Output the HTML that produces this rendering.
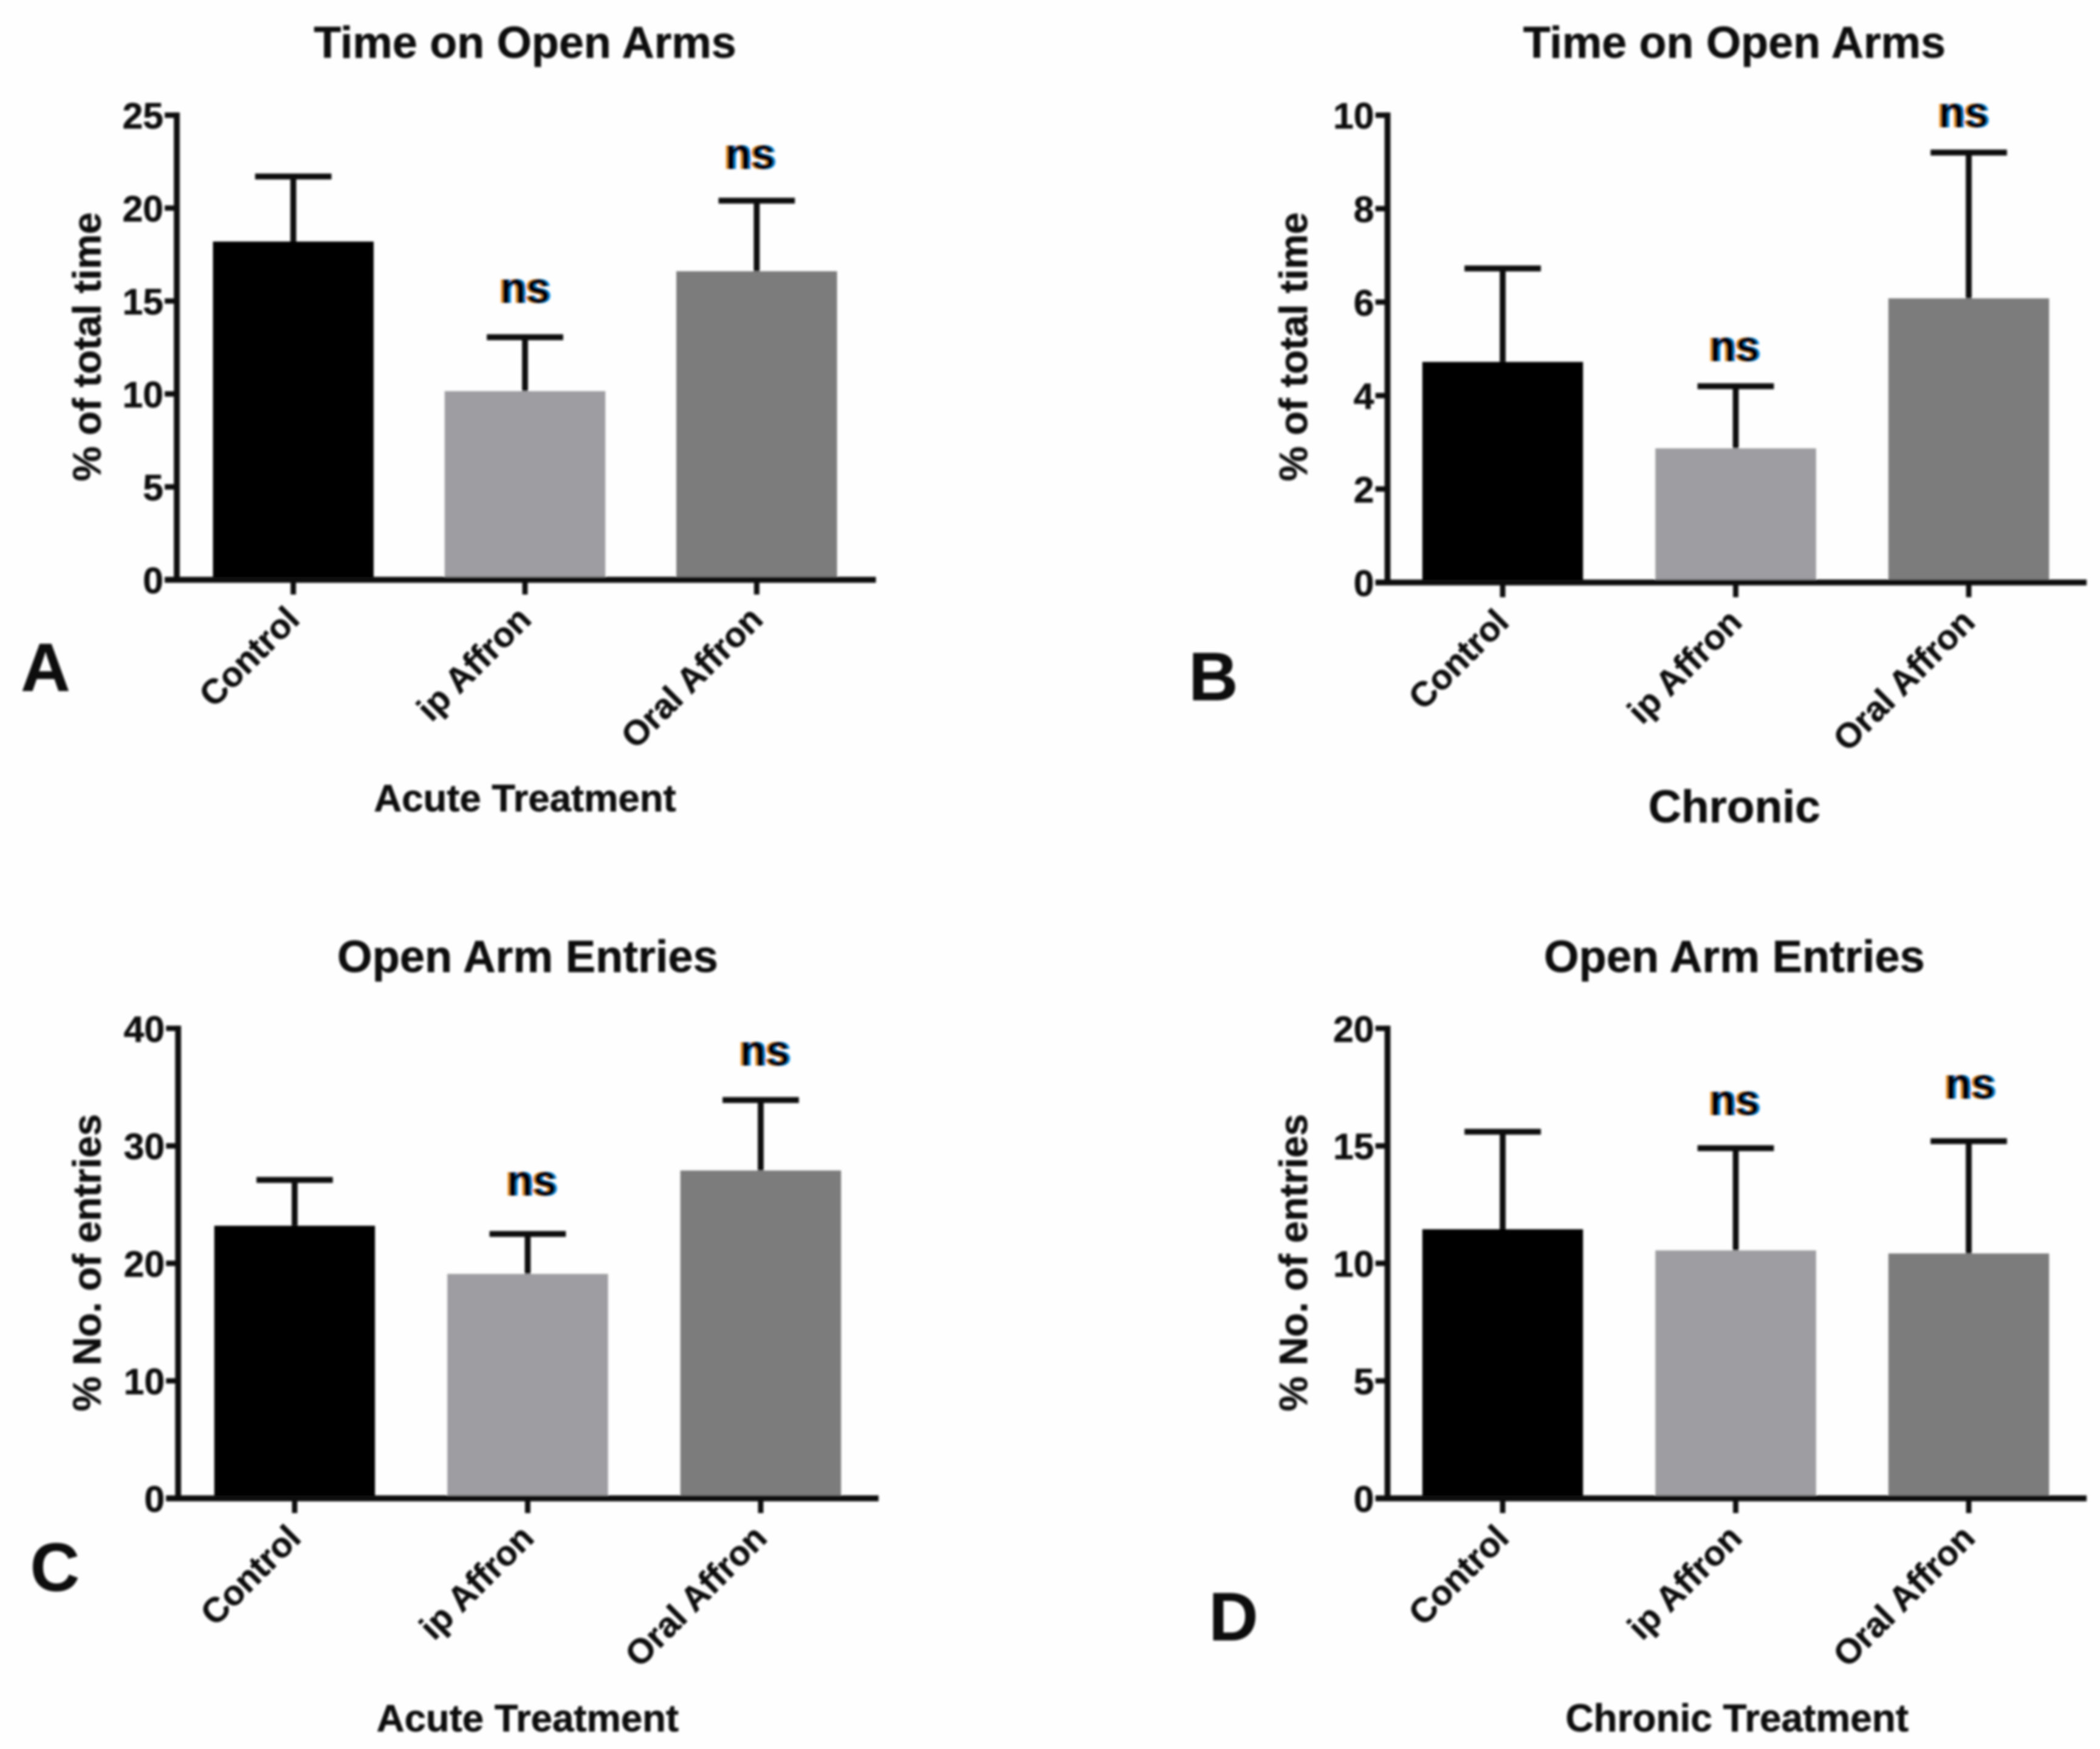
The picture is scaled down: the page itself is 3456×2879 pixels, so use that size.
<!DOCTYPE html>
<html lang="en">
<head>
<meta charset="utf-8">
<title>Time on Open Arms and Open Arm Entries</title>
<style>
html,body{margin:0;padding:0;background:#fefefe;}
svg{display:block;position:absolute;left:0;top:0;}
text{font-family:"Liberation Sans",Arial,sans-serif;font-weight:bold;fill:#0c0c0c;stroke:#0c0c0c;stroke-width:0.25;}
</style>
</head>
<body>
<svg id="figure" xmlns="http://www.w3.org/2000/svg" width="3456" height="2879" viewBox="0 0 1568 1306.2">
<defs>
<filter id="soft" x="-5%" y="-5%" width="110%" height="110%"><feGaussianBlur stdDeviation="0.8"/></filter>
<filter id="fringe" x="-30%" y="-30%" width="160%" height="160%">
<feFlood flood-color="#f59a2a" result="o"/>
<feComposite in="o" in2="SourceAlpha" operator="in" result="oa"/>
<feOffset in="oa" dx="-1.4" result="ol"/>
<feFlood flood-color="#0a8ee8" result="b"/>
<feComposite in="b" in2="SourceAlpha" operator="in" result="ba"/>
<feOffset in="ba" dx="1.4" result="bl"/>
<feMerge><feMergeNode in="ol"/><feMergeNode in="bl"/><feMergeNode in="SourceGraphic"/></feMerge>
</filter>
</defs>
<rect x="0" y="0" width="1568" height="1307" fill="#fefefe"/>
<g id="root" filter="url(#soft)"></g>
</svg>
<script>
const categories = ['Control', 'ip Affron', 'Oral Affron'];
const barColors = ['#000000', '#9e9ea2', '#7c7c7c'];

const panelAValues = [18.2, 10.15, 16.6];
const panelAErrorTops = [21.7, 13.05, 20.4];
const panelATicks = [0, 5, 10, 15, 20, 25];

const panelBValues = [4.72, 2.87, 6.08];
const panelBErrorTops = [6.72, 4.2, 9.2];
const panelBTicks = [0, 2, 4, 6, 8, 10];

const panelCValues = [23.2, 19.1, 27.9];
const panelCErrorTops = [27.1, 22.5, 33.9];
const panelCTicks = [0, 10, 20, 30, 40];

const panelDValues = [11.45, 10.55, 10.42];
const panelDErrorTops = [15.6, 14.9, 15.2];
const panelDTicks = [0, 5, 10, 15, 20];

const SVG_NS = 'http://www.w3.org/2000/svg';
const root = document.getElementById('root');

function drawPanel(p) {
  const slug = 'panel-' + p.letter.toLowerCase();
  const group = document.createElementNS(SVG_NS, 'g');
  
  
  root.appendChild(group);

  const yMax = p.ticks[p.ticks.length - 1];
  const yScale = v => p.y0 - (v / yMax) * (p.y0 - p.yTop);
  const xCenter = i => p.firstCenter + i * p.step;

  function line(x1, y1, x2, y2, w) {
    const el = document.createElementNS(SVG_NS, 'line');
    el.setAttribute('x1', x1);
    el.setAttribute('y1', y1);
    el.setAttribute('x2', x2);
    el.setAttribute('y2', y2);
    el.setAttribute('stroke', '#0a0a0a');
    el.setAttribute('stroke-width', w);
    group.appendChild(el);
    return el;
  }
  function text(str, x, y, size, anchor) {
    const el = document.createElementNS(SVG_NS, 'text');
    el.textContent = str;
    el.setAttribute('x', x);
    el.setAttribute('y', y);
    el.setAttribute('font-size', size);
    el.setAttribute('text-anchor', anchor || 'middle');
    group.appendChild(el);
    return el;
  }

  // bars
  categories.forEach((cat, i) => {
    const yTopBar = yScale(p.values[i]);
    const bar = document.createElementNS(SVG_NS, 'rect');
    
    
    bar.setAttribute('x', xCenter(i) - p.barWidth / 2);
    bar.setAttribute('y', yTopBar);
    bar.setAttribute('width', p.barWidth);
    bar.setAttribute('height', p.y0 - yTopBar);
    bar.setAttribute('fill', barColors[i]);
    group.appendChild(bar);

    const stem = line(xCenter(i), yTopBar, xCenter(i), yScale(p.errorTops[i]), 4.4);
    
    
    const cap = line(xCenter(i) - 28.5, yScale(p.errorTops[i]), xCenter(i) + 28.5, yScale(p.errorTops[i]), 4.4);
    
    
  });

  // axes
  const yAxis = line(p.xAxis, p.yTop - 2, p.xAxis, p.y0 + 2, 4.4);
  
  
  const xAxis = line(p.xAxis - 9, p.y0, p.xEnd, p.y0, 4.4);
  
  

  // y ticks
  p.ticks.forEach(t => {
    const tick = line(p.xAxis - 9, yScale(t), p.xAxis, yScale(t), 4);
    
    
    const label = text(String(t), p.xAxis - 10, yScale(t) + 10, 27.5, 'end');
    
    
  });

  // x ticks and rotated labels
  categories.forEach((cat, i) => {
    const tick = line(xCenter(i), p.y0, xCenter(i), p.y0 + 11, 4);
    
    
    const lx = xCenter(i) + 6;
    const ly = p.y0 + 31;
    const label = text(cat, lx, ly, 26, 'end');
    label.setAttribute('transform', 'rotate(-45 ' + lx + ' ' + ly + ')');
    
    
  });

  // titles
  const title = text(p.title, p.titleX, p.titleY, p.titleSize);
  
  

  const xTitle = text(p.xTitle, p.xTitleX, p.xTitleY, p.xTitleSize);
  
  

  const yTitle = text(p.yTitle, 0, 0, 29.4);
  yTitle.setAttribute('transform', 'translate(' + p.yTitleX + ' ' + p.yTitleY + ') rotate(-90)');
  
  

  // panel letter
  const letter = text(p.letter, p.letterX, p.letterY, 51);
  
  

  // significance labels
  p.ns.forEach(n => {
    const mark = text('ns', xCenter(n.bar) + n.dx, yScale(p.errorTops[n.bar]) + n.dy, 32);
    mark.setAttribute('filter', 'url(#fringe)');
    mark.setAttribute('style', 'fill:#000010;stroke:#000010;stroke-width:0.5');
    
    
  });
}

drawPanel({
  letter: 'A', values: panelAValues, errorTops: panelAErrorTops, ticks: panelATicks,
  xAxis: 132, xEnd: 654, y0: 433, yTop: 86, firstCenter: 219, step: 173, barWidth: 120,
  title: 'Time on Open Arms', titleX: 392, titleY: 43, titleSize: 33.4,
  xTitle: 'Acute Treatment', xTitleX: 392, xTitleY: 606, xTitleSize: 28.8,
  yTitle: '% of total time', yTitleX: 75, yTitleY: 259,
  letterX: 34, letterY: 516,
  ns: [{bar: 1, dx: 0, dy: -26}, {bar: 2, dx: -5, dy: -24}]
});
drawPanel({
  letter: 'B', values: panelBValues, errorTops: panelBErrorTops, ticks: panelBTicks,
  xAxis: 1036, xEnd: 1558, y0: 435, yTop: 86, firstCenter: 1122, step: 174, barWidth: 120,
  title: 'Time on Open Arms', titleX: 1295, titleY: 43, titleSize: 33.4,
  xTitle: 'Chronic', xTitleX: 1295, xTitleY: 614, xTitleSize: 34,
  yTitle: '% of total time', yTitleX: 976, yTitleY: 259,
  letterX: 906, letterY: 523,
  ns: [{bar: 1, dx: -1, dy: -19}, {bar: 2, dx: -4, dy: -19}]
});
drawPanel({
  letter: 'C', values: panelCValues, errorTops: panelCErrorTops, ticks: panelCTicks,
  xAxis: 133, xEnd: 656, y0: 1119, yTop: 768, firstCenter: 220, step: 174, barWidth: 120,
  title: 'Open Arm Entries', titleX: 394, titleY: 726, titleSize: 33.6,
  xTitle: 'Acute Treatment', xTitleX: 394, xTitleY: 1293, xTitleSize: 28.8,
  yTitle: '% No. of entries', yTitleX: 75, yTitleY: 943,
  letterX: 41, letterY: 1188,
  ns: [{bar: 1, dx: 3, dy: -29}, {bar: 2, dx: 3, dy: -26}]
});
drawPanel({
  letter: 'D', values: panelDValues, errorTops: panelDErrorTops, ticks: panelDTicks,
  xAxis: 1036, xEnd: 1558, y0: 1119, yTop: 768, firstCenter: 1122, step: 174, barWidth: 120,
  title: 'Open Arm Entries', titleX: 1295, titleY: 726, titleSize: 33.6,
  xTitle: 'Chronic Treatment', xTitleX: 1297, xTitleY: 1293, xTitleSize: 29,
  yTitle: '% No. of entries', yTitleX: 976, yTitleY: 943,
  letterX: 921, letterY: 1225,
  ns: [{bar: 1, dx: -1, dy: -25}, {bar: 2, dx: 1, dy: -32}]
});
</script>
</body>
</html>
